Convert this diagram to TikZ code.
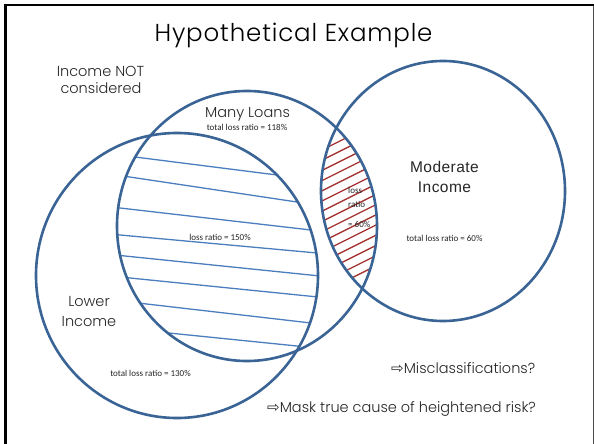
\documentclass[tikz,border=0pt]{standalone}
\usepackage{fontspec}
\IfFontExistsTF{Poppins Light}{\setmainfont{Poppins Light}}{\setmainfont{Poppins}}
\newfontfamily\arialfont{Liberation Sans}[LetterSpace=3]
\newfontfamily\calfont{Carlito}
\newfontfamily\symfont{DejaVu Sans}
\usetikzlibrary{calc}

\definecolor{ringblue}{HTML}{3A6495}
\definecolor{hatchblue}{HTML}{4A7EBF}
\definecolor{hatchred}{HTML}{A3302E}
\definecolor{inkgray}{HTML}{262626}

\newcommand{\hollowarrow}{{\symfont\fontsize{15}{15}\selectfont ⇨}}

\begin{document}
\begin{tikzpicture}[x=1pt,y=-1pt,
  ring/.style={draw=ringblue,line width=2.6pt},
  bluehatch/.style={draw=hatchblue,line width=1.3pt},
  redhatch/.style={draw=hatchred,line width=1.3pt},
  title/.style={font=\addfontfeature{LetterSpace=3.5}\fontsize{24.5}{28}\selectfont,text=black,inner sep=0pt},
  label/.style={font=\fontsize{14.5}{17}\selectfont,text=inkgray,inner sep=0pt},
  arlabel/.style={font=\arialfont\fontsize{15.5}{18}\selectfont,text=inkgray,inner sep=0pt},
  small/.style={font=\calfont\fontsize{9}{10}\selectfont,text=inkgray,inner sep=0pt}]
\useasboundingbox (0,0) rectangle (594,444);
\fill[white] (0,0) rectangle (594,444);

% slide frame: heavy top and left edge, thin right edge
\draw[black!70,line width=0.9pt] (593,5) -- (593,444);
\draw[black,line width=2.6pt] (5.5,444) -- (5.5,5) -- (593.5,5);

% Many Loans and Lower Income overlap, blue hatching
\begin{scope}
  \clip (247,226) ellipse [x radius=130pt, y radius=135pt];
  \clip (177,275.5) ellipse [x radius=141pt, y radius=142.5pt];
  \foreach \ax/\ay/\bx/\by in {135/157/277/175, 123/176/297/202,
      120/208/311/230, 120/235/317/253, 125/256/320/276,
      130/278/318/297, 138/303/311/323, 169/333/297/346}
    \draw[bluehatch] ($(\ax,\ay)!-0.2!(\bx,\by)$) -- ($(\ax,\ay)!1.2!(\bx,\by)$);
\end{scope}

% Many Loans and Moderate Income overlap, red hatching
\begin{scope}
  \clip (247,226) ellipse [x radius=130pt, y radius=135pt];
  \clip (443,191) ellipse [x radius=122pt, y radius=130pt];
  \foreach \k in {0,...,14}
    \draw[redhatch] (300,{161+10.2*\k}) -- (400,{111+10.2*\k});
\end{scope}

% the three sets
\draw[ring] (177,275.5) ellipse [x radius=141pt, y radius=142.5pt];
\draw[ring] (247,226) ellipse [x radius=130pt, y radius=135pt];
\draw[ring] (443,191) ellipse [x radius=122pt, y radius=130pt];

% texts
\node[title,anchor=base] (ttl) at (293.5,42) {Hypothetical Example};
\node[label,anchor=base] (inc1) at (100.5,76) {Income NOT};
\node[label,anchor=base] (inc2) at (101,93) {considered};
\node[label,anchor=base] (many) at (247.5,117) {Many Loans};
\node[small,anchor=base] (tl118) at (247,130) {total loss ratio = 118\%};
\node[arlabel,anchor=base] (mod1) at (444.5,172) {Moderate};
\node[arlabel,anchor=base] (mod2) at (444.5,192) {Income};
\node[small,anchor=base] (tl60) at (444.5,241) {total loss ratio = 60\%};
\node[small,anchor=base] (lr150) at (220,240.5) {loss ratio = 150\%};
\node[small,anchor=base west] (lr1) at (348,193) {loss};
\node[small,anchor=base west] (lr2) at (348,207) {ratio};
\node[small,anchor=base west] (lr3) at (348,227) {= 60\%};
\node[label,anchor=base] (low1) at (89,306) {Lower};
\node[label,anchor=base] (low2) at (89,326) {Income};
\node[small,anchor=base] (tl130) at (150.5,376) {total loss ratio = 130\%};
\node[label,anchor=base west] (mis) at (391,373) {\hollowarrow Misclassifications?};
\node[label,anchor=base west] (mask) at (267,412) {\hollowarrow Mask true cause of heightened risk?};
\end{tikzpicture}
\end{document}
